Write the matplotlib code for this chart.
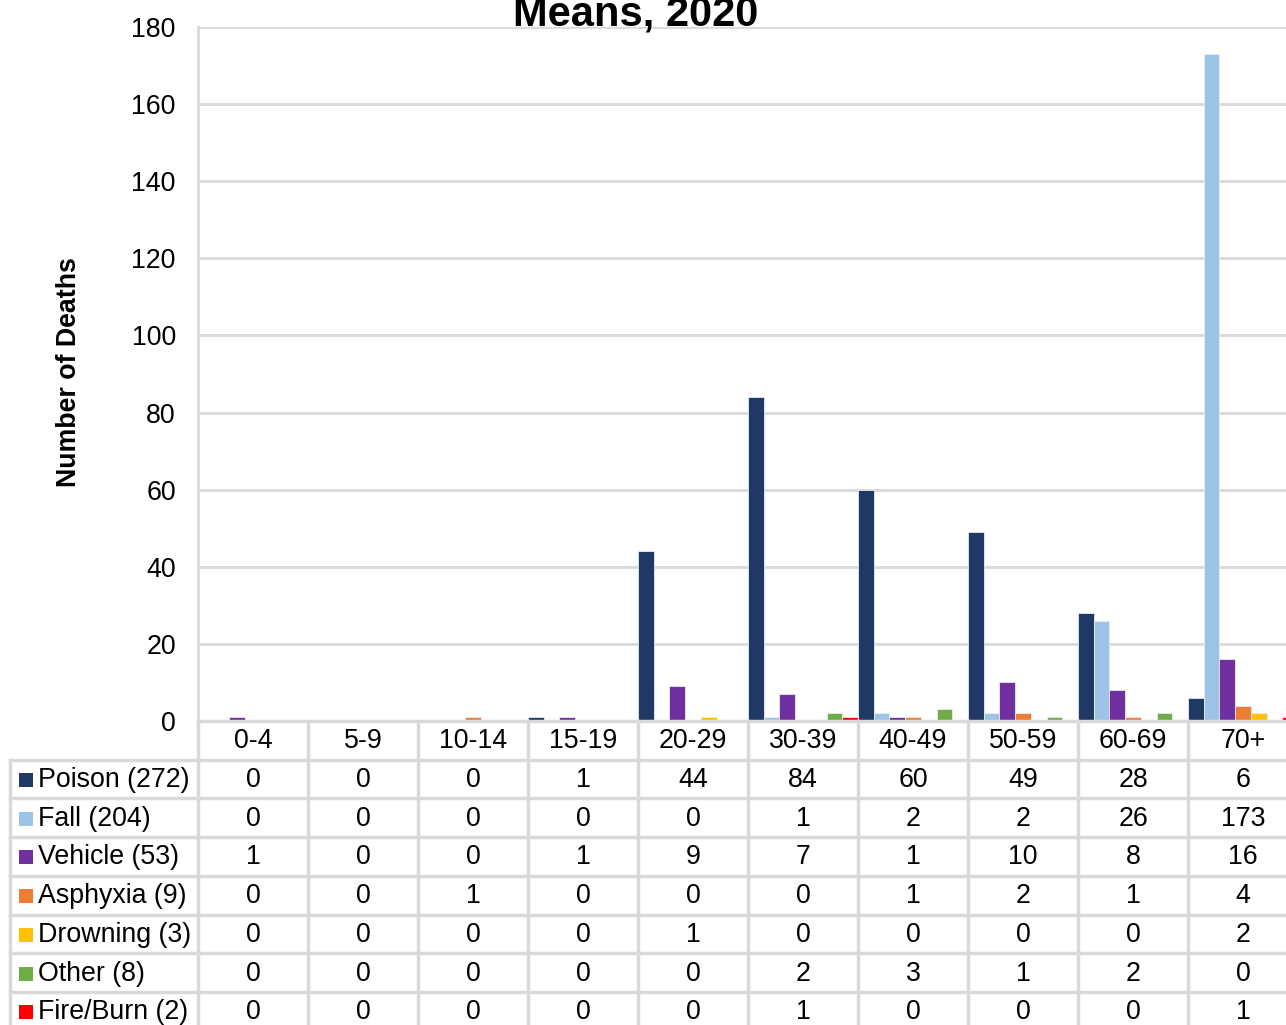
import matplotlib
matplotlib.use("Agg")
import matplotlib.pyplot as plt
import numpy as np

plt.rcParams['font.family'] = ['Liberation Sans', 'DejaVu Sans']

categories = ["0-4", "5-9", "10-14", "15-19", "20-29", "30-39", "40-49", "50-59", "60-69", "70+"]
series_names = ["Poison", "Fall", "Vehicle", "Asphyxia", "Drowning", "Other", "Fire/Burn"]
poison = [0, 0, 0, 1, 44, 84, 60, 49, 28, 6]
fall = [0, 0, 0, 0, 0, 1, 2, 2, 26, 173]
vehicle = [1, 0, 0, 1, 9, 7, 1, 10, 8, 16]
asphyxia = [0, 0, 1, 0, 0, 0, 1, 2, 1, 4]
drowning = [0, 0, 0, 0, 1, 0, 0, 0, 0, 2]
other = [0, 0, 0, 0, 0, 2, 3, 1, 2, 0]
fire_burn = [0, 0, 0, 0, 0, 1, 0, 0, 0, 1]
series_values = [poison, fall, vehicle, asphyxia, drowning, other, fire_burn]
colors = ["#203864", "#9DC3E6", "#7030A0", "#ED7D31", "#FFC000", "#70AD47", "#FF0000"]
yticks = [0, 20, 40, 60, 80, 100, 120, 140, 160, 180]
title_visible = "Means, 2020"
ylabel = "Number of Deaths"

W, H = 1286, 1025
fig = plt.figure(figsize=(W / 100, H / 100), dpi=100)

# pixel layout
x0, x1 = 198, 1298
ytop, ybot = 27, 721
ax = fig.add_axes([x0 / W, 1 - ybot / H, (x1 - x0) / W, (ybot - ytop) / H])

n_cat = len(categories)
n_ser = len(series_values)
bw = 1.0 / n_ser
xs = np.arange(n_cat)
for i, (vals, c) in enumerate(zip(series_values, colors)):
    v = np.array(vals, dtype=float)
    ax.bar(xs + i * bw, v, width=bw, align='edge', color=c,
           edgecolor='#e8ecf4', linewidth=0.6, zorder=3)

fs = 19.3
ax.set_xlim(0, n_cat)
ax.set_ylim(0, 180)
ax.set_yticks(yticks)
ax.set_yticklabels([str(t) for t in yticks], fontsize=fs)
ax.tick_params(axis='y', length=0, pad=16)
ax.set_xticks([])
ax.grid(axis='y', color='#d9d9d9', linewidth=2, zorder=0)
for s in ['top', 'right', 'bottom']:
    ax.spines[s].set_visible(False)
ax.spines['left'].set_color('#d9d9d9')
ax.spines['left'].set_linewidth(2)

# y label
fig.text(69 / W, 1 - 372 / H, ylabel, rotation=90, ha='center', va='center',
         fontsize=fs, fontweight='bold')

# title (partially clipped at top edge, as in reference)
fig.text(636 / W, 1 - 26 / H, title_visible, ha='center', va='baseline',
         fontsize=30, fontweight='bold')

# data table drawn in pixel coordinates
tax = fig.add_axes([0, 0, 1, 1])
tax.set_xlim(0, W)
tax.set_ylim(H, 0)
tax.axis('off')
gcol = '#d9d9d9'
rowh = 38.7
row_tops = [ybot + k * rowh for k in range(n_ser + 2)]
cw = (x1 - x0) / n_cat
tax.plot([x0, x1], [ybot, ybot], color=gcol, lw=2.5, zorder=1)
for k in range(1, n_ser + 2):
    tax.plot([10, x1], [row_tops[k], row_tops[k]], color=gcol, lw=2.5, zorder=1)
tax.plot([10, 10], [row_tops[1], row_tops[-1]], color=gcol, lw=2.5)
for k in range(n_cat + 1):
    xx = x0 + k * cw
    tax.plot([xx, xx], [ybot, row_tops[-1]], color=gcol, lw=2.5)

for j, cat in enumerate(categories):
    tax.text(x0 + (j + 0.5) * cw, (row_tops[0] + row_tops[1]) / 2 + 1, cat,
             ha='center', va='center', fontsize=fs)
for i, (name, vals, c) in enumerate(zip(series_names, series_values, colors)):
    yc = (row_tops[i + 1] + row_tops[i + 2]) / 2 + 1
    tax.add_patch(plt.Rectangle((19, yc - 7), 14, 14, color=c, lw=0))
    tax.text(38, yc, f"{name} ({sum(vals)})", ha='left', va='center', fontsize=fs)
    for j, v in enumerate(vals):
        tax.text(x0 + (j + 0.5) * cw, yc, str(v), ha='center', va='center', fontsize=fs)

fig.savefig("out.png", dpi=100)
